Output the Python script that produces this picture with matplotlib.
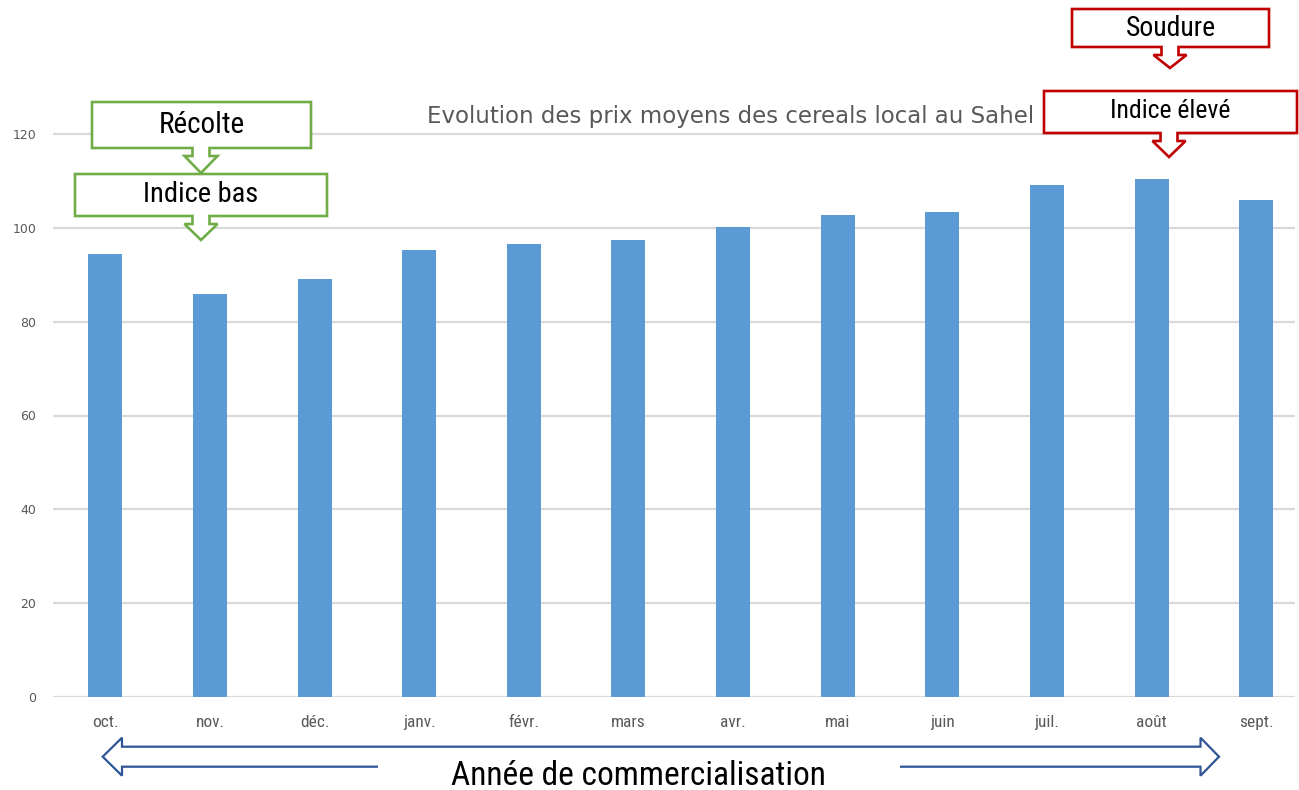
import matplotlib
matplotlib.use("Agg")
import matplotlib.pyplot as plt
from matplotlib.patches import Polygon, Rectangle
from matplotlib import font_manager as fm

# ---- data ----
months = ["oct.", "nov.", "déc.", "janv.", "févr.", "mars", "avr.", "mai",
          "juin", "juil.", "août", "sept."]
prices = [94.5, 85.9, 89.1, 95.3, 96.6, 97.4, 100.2, 102.8, 103.4, 109.2, 110.4, 106.0]
yticks = [0, 20, 40, 60, 80, 100, 120]
title = "Evolution des prix moyens des cereals local au Sahel"
xlabel = "Année de commercialisation"
callouts_green = ["Récolte", "Indice bas"]
callouts_red = ["Soudure", "Indice élevé"]


def pick(names):
    for n in names:
        try:
            fm.findfont(n, fallback_to_default=False)
            return n
        except Exception:
            pass
    return "DejaVu Sans"


narrow = pick(["Liberation Sans Narrow", "Roboto Condensed", "DejaVu Sans Condensed", "Open Sans"])
wide = "DejaVu Sans"

W, H = 1299, 790
fig = plt.figure(figsize=(W / 100, H / 100), dpi=100)

# main axes in pixel layout
left_px, right_px, bottom_px = 53, 1295, 697
px_per_unit = (697 - 134) / 120.0
ytop = 125
top_px = bottom_px - ytop * px_per_unit
ax = fig.add_axes([left_px / W, (H - bottom_px) / H,
                   (right_px - left_px) / W, (bottom_px - top_px) / H])

x = list(range(len(months)))
ax.bar(x, prices, width=0.325, color="#5B9BD5", zorder=3)
ax.set_xlim(-0.5, 11.37)
ax.set_ylim(0, ytop)
ax.set_yticks(yticks)
ax.yaxis.grid(True, color="#D9D9D9", linewidth=1.6, zorder=0)
ax.set_axisbelow(True)
for s in ax.spines.values():
    s.set_visible(False)
ax.tick_params(axis="both", length=0)
ax.tick_params(axis="y", pad=12, labelsize=9, labelcolor="#595959")
ax.tick_params(axis="x", pad=13, labelsize=12.5, labelcolor="#595959")
ax.set_xticks(x)
ax.set_xticklabels(months, fontfamily=narrow)

# overlay axes in pixel coordinates for annotations
ov = fig.add_axes([0, 0, 1, 1], zorder=5)
ov.set_xlim(0, W)
ov.set_ylim(H, 0)
ov.axis("off")
ov.patch.set_alpha(0)

ov.text(731, 117, title, ha="center", va="center", fontsize=16.5,
        color="#595959", fontfamily=wide)


def callout(x0, y0, x1, y1, cx, tip, color, text, ty, fs):
    sw, hw = 8.5, 16.5
    ys = y1 + 8
    pts = [(x0, y0), (x1, y0), (x1, y1), (cx + sw, y1), (cx + sw, ys),
           (cx + hw, ys), (cx, tip), (cx - hw, ys), (cx - sw, ys),
           (cx - sw, y1), (x0, y1)]
    ov.add_patch(Polygon(pts, closed=True, facecolor="white", edgecolor=color,
                         linewidth=1.9, joinstyle="miter"))
    ov.text((x0 + x1) / 2, ty, text, ha="center", va="center", fontsize=fs,
            color="black", fontfamily=narrow)


green = "#70AD47"
red = "#C00000"
callout(92, 102, 311, 148, 201, 173, green, callouts_green[0], 125, 21)
callout(75, 174, 327, 216, 201, 240, green, callouts_green[1], 195, 20.5)
callout(1072, 9, 1269, 47, 1170, 68, red, callouts_red[0], 28, 20)
callout(1044, 91, 1297, 133, 1169, 157, red, callouts_red[1], 111, 18.5)

# double-headed block arrow
blue = "#2F5597"
cy = 756.7
sh, hh = 10, 19
lt, lb, rb, rt = 102.7, 122, 1200.5, 1219
arrow = [(lt, cy), (lb, cy - hh), (lb, cy - sh), (rb, cy - sh), (rb, cy - hh),
         (rt, cy), (rb, cy + hh), (rb, cy + sh), (lb, cy + sh), (lb, cy + hh)]
ov.add_patch(Polygon(arrow, closed=True, facecolor="white", edgecolor=blue,
                     linewidth=1.6, joinstyle="miter"))
ov.add_patch(Rectangle((378, cy + sh - 3), 522, 40, facecolor="white",
                       edgecolor="none", zorder=3))
ov.text(638, 776, xlabel, ha="center", va="center", fontsize=24,
        color="black", fontfamily=narrow, zorder=4)

fig.savefig("out.png", dpi=100, facecolor="white")
